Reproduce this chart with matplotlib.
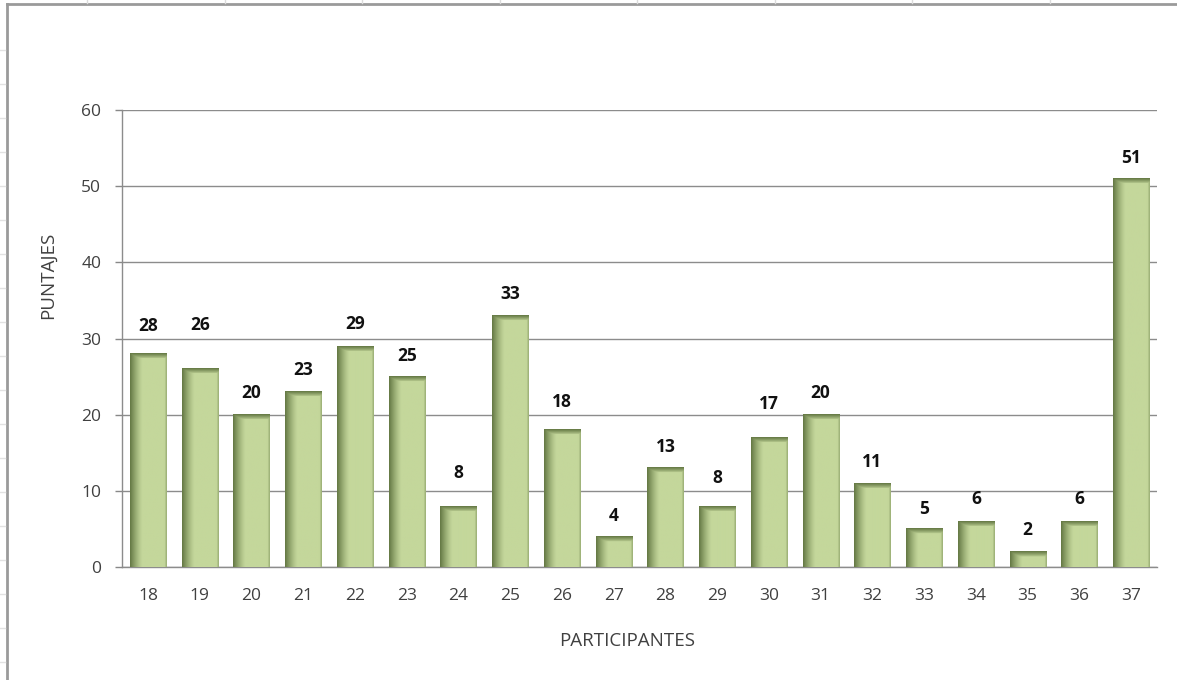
import numpy as np
import matplotlib
matplotlib.use('Agg')
import matplotlib.pyplot as plt
from matplotlib.lines import Line2D

# participantes y puntajes
participantes = ['18', '19', '20', '21', '22', '23', '24', '25', '26', '27',
                 '28', '29', '30', '31', '32', '33', '34', '35', '36', '37']
puntajes = [28, 26, 20, 23, 29, 25, 8, 33, 18, 4,
            13, 8, 17, 20, 11, 5, 6, 2, 6, 51]
y_ticks = [0, 10, 20, 30, 40, 50, 60]

# separación (px) entre el tope de cada barra y su etiqueta, movidas a mano
label_gap = [28, 44, 22, 22, 22, 21, 33, 22, 28, 21,
             21, 28, 34, 22, 21, 20, 22, 22, 22, 21]

LIGHT = np.array([196, 215, 155]) / 255
DARK = np.array([98, 118, 66]) / 255
TXT = '#404040'
FONT = ['Open Sans', 'DejaVu Sans']

plt.rcParams['font.family'] = FONT

fig = plt.figure(figsize=(11.77, 6.8), dpi=100)
ax = fig.add_axes([0.1037, 0.166, 0.8793, 0.672])

x = np.arange(len(participantes))
bars = ax.bar(x, puntajes, width=0.7, color=LIGHT, zorder=2)

ax.set_xlim(-0.5, len(participantes) - 0.5)
ax.set_ylim(0, 60)


def bar_shade(w_px, h_px):
    # sombra interior: borde izquierdo oscuro, franja superior y filo derecho
    w_px = max(int(round(w_px)), 2)
    h_px = max(int(round(h_px)), 2)
    t = (np.arange(w_px) + 0.5) / w_px
    left = np.clip(1 - t / 0.34, 0, 1) ** 1.3
    right = 0.45 * np.clip((t - 0.93) / 0.07, 0, 1)
    horiz = np.maximum(left, right)
    py = np.arange(h_px) + 0.5
    top = np.clip(1 - py / 5.5, 0, 1) ** 0.8
    d = np.maximum(horiz[None, :], top[:, None])
    img = LIGHT[None, None, :] * (1 - d[..., None]) + DARK[None, None, :] * d[..., None]
    return img


fig.canvas.draw()
px_per_x = ax.transData.transform((1, 0))[0] - ax.transData.transform((0, 0))[0]
px_per_y = ax.transData.transform((0, 1))[1] - ax.transData.transform((0, 0))[1]
for b in bars:
    bx, bw, bh = b.get_x(), b.get_width(), b.get_height()
    img = bar_shade(bw * px_per_x, bh * px_per_y)
    ax.imshow(img, extent=(bx, bx + bw, 0, bh), origin='upper',
              aspect='auto', interpolation='bilinear', zorder=3)

ax.set_xlim(-0.5, len(participantes) - 0.5)
ax.set_ylim(0, 60)

# etiquetas de valor
for xi, v, gap in zip(x, puntajes, label_gap):
    ax.annotate(str(v), (xi, v), xytext=(0, gap), textcoords='offset pixels',
                ha='center', va='center', fontsize=12.5, fontweight='bold',
                color='#111111', zorder=4)

ax.set_yticks(y_ticks)
ax.set_xticks(x)
ax.set_xticklabels(participantes)
ax.tick_params(axis='y', length=5, width=1, color='#888888', pad=10,
               labelsize=12.5, labelcolor=TXT)
ax.tick_params(axis='x', length=0, pad=15, labelsize=12.5, labelcolor=TXT)
ax.grid(axis='y', color='#8c8c8c', linewidth=1, zorder=1)
ax.set_axisbelow(True)

for s in ['top', 'right']:
    ax.spines[s].set_visible(False)
for s in ['left', 'bottom']:
    ax.spines[s].set_color('#8c8c8c')
    ax.spines[s].set_linewidth(1)

fig.text(627 / 1177, 1 - 641 / 680, 'PARTICIPANTES', ha='center', va='center',
         fontsize=13.5, color=TXT)
fig.text(48 / 1177, 1 - 275 / 680, 'PUNTAJES', ha='center', va='center',
         rotation=90, fontsize=13.5, color=TXT)

# marco del gráfico y cuadrícula de la hoja
W, H = 1177, 680
fig.add_artist(Line2D([7 / W, 7 / W], [0, 1 - 4 / H], transform=fig.transFigure,
                      color='#9a9a9a', linewidth=2))
fig.add_artist(Line2D([7 / W, 1], [1 - 4 / H, 1 - 4 / H], transform=fig.transFigure,
                      color='#9a9a9a', linewidth=2))
for cx in [87, 225, 362, 500, 637, 775, 912, 1050]:
    fig.add_artist(Line2D([cx / W, cx / W], [1 - 3 / H, 1], transform=fig.transFigure,
                          color='#dcdcdc', linewidth=1))
for cy in [50, 84, 118, 152, 186, 220, 254, 288, 322, 356, 390, 424,
           458, 492, 526, 560, 594, 628, 662]:
    fig.add_artist(Line2D([0, 5 / W], [1 - cy / H, 1 - cy / H], transform=fig.transFigure,
                          color='#e2e2e2', linewidth=1))

fig.savefig('out.png', dpi=100)
